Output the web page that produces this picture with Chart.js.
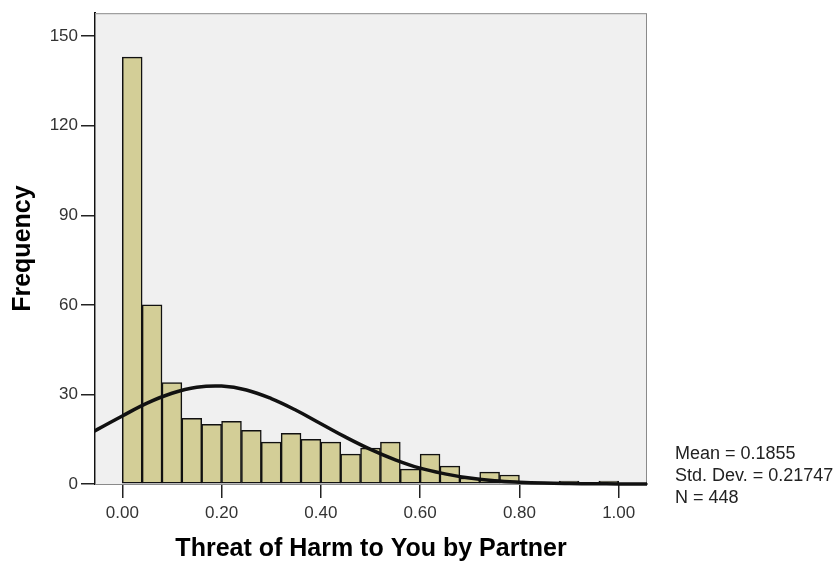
<!DOCTYPE html>
<html>
<head>
<meta charset="utf-8">
<script src="https://cdn.jsdelivr.net/npm/chart.js@4/dist/chart.umd.min.js"></script>
<style>
  html, body { margin: 0; padding: 0; background: #fff; }
  #wrap { position: relative; width: 840px; height: 567px; }
  #stats {
    position: absolute; left: 675px; top: 442px;
    font: 18px "Liberation Sans", Arial, sans-serif; color: #222;
    line-height: 22px; white-space: nowrap;
  }
</style>
</head>
<body>
<div id="wrap">
  <canvas id="histChart" width="840" height="567"></canvas>
  <div id="stats">Mean = 0.1855<br>Std. Dev. = 0.21747<br>N = 448</div>
</div>
<script>
// histogram bins (centres, width 0.04) and counts
const binCentres = [0.02, 0.06, 0.10, 0.14, 0.18, 0.22, 0.26, 0.30, 0.34, 0.38, 0.42, 0.46, 0.50,
                    0.54, 0.58, 0.62, 0.66, 0.70, 0.74, 0.78, 0.82, 0.86, 0.90, 0.94, 0.98, 1.02];
const counts = [143, 60, 34, 22, 20, 21, 18, 14, 17, 15, 14, 10, 12,
                14, 5, 10, 6, 2, 4, 3, 0, 0, 1, 0, 1, 0];

// normal curve
const curveX = [-0.10, -0.05, 0.00, 0.05, 0.10, 0.15, 0.20, 0.25, 0.30, 0.35, 0.40, 0.45, 0.50,
                0.55, 0.60, 0.65, 0.70, 0.75, 0.80, 0.85, 0.90, 0.95, 1.00, 1.05, 1.10];
const curveY = [13.9, 18.3, 22.8, 27.1, 30.4, 32.4, 32.8, 31.5, 28.6, 24.7, 20.2, 15.7, 11.6,
                8.1, 5.3, 3.4, 2.0, 1.1, 0.6, 0.3, 0.15, 0.07, 0.03, 0.01, 0.0];

const xTicks = [0, 0.2, 0.4, 0.6, 0.8, 1.0];
const yTicks = [0, 30, 60, 90, 120, 150];

// grey plot background with a thin frame
const plotBackground = {
  id: 'plotBackground',
  beforeDatasetsDraw(chart) {
    const { ctx, chartArea: a } = chart;
    ctx.save();
    ctx.fillStyle = '#f0f0f0';
    ctx.fillRect(a.left, a.top, a.right - a.left, a.bottom - a.top);
    ctx.strokeStyle = '#8a8a8a';
    ctx.lineWidth = 1;
    ctx.strokeRect(a.left + 0.5, a.top + 0.5, a.right - a.left - 1, a.bottom - a.top);
    ctx.restore();
  }
};

const font = '"Liberation Sans", Arial, sans-serif';

new Chart(document.getElementById('histChart'), {
  type: 'bar',
  data: {
    datasets: [{
      type: 'line',
      data: curveX.map((x, i) => ({ x: x, y: curveY[i] })),
      borderColor: '#111',
      borderWidth: 3.5,
      pointRadius: 0,
      tension: 0.4,
      clip: { left: 0, top: 0, right: 0, bottom: 2 },
      order: 0
    }, {
      type: 'bar',
      data: binCentres.map((x, i) => ({ x: x, y: counts[i] })),
      backgroundColor: '#d3ce97',
      borderColor: '#111',
      borderWidth: 1.5,
      borderSkipped: false,
      barPercentage: 1,
      categoryPercentage: 1,
      order: 1
    }]
  },
  options: {
    responsive: false,
    animation: false,
    events: [],
    layout: { padding: { left: 0, top: 10, right: 193, bottom: 0 } },
    plugins: { legend: { display: false }, tooltip: { enabled: false } },
    scales: {
      x: {
        type: 'linear',
        offset: false,
        min: -0.055,
        max: 1.057,
        afterBuildTicks: s => { s.ticks = xTicks.map(v => ({ value: v })); },
        afterFit: s => { s.height = 83; },
        grid: { offset: false, drawOnChartArea: false, drawTicks: true, tickLength: 14, color: '#222', lineWidth: 1.5 },
        border: { display: true, color: '#111', width: 2 },
        ticks: {
          padding: 5,
          color: '#333',
          font: { family: font, size: 17 },
          maxRotation: 0,
          callback: v => v.toFixed(2)
        },
        title: {
          display: true,
          text: 'Threat of Harm to You by Partner',
          color: '#000',
          font: { family: font, size: 25, weight: 'bold', lineHeight: 1.2 },
          padding: { top: 0, bottom: 3 }
        }
      },
      y: {
        min: 0,
        max: 157.7,
        afterBuildTicks: s => { s.ticks = yTicks.map(v => ({ value: v })); },
        afterFit: s => { s.width = 95; },
        grid: { drawOnChartArea: false, drawTicks: true, tickLength: 14, color: '#222', lineWidth: 1.5 },
        border: { display: true, color: '#111', width: 2 },
        ticks: {
          padding: 3,
          color: '#333',
          font: { family: font, size: 17 }
        },
        title: {
          display: true,
          text: 'Frequency',
          color: '#000',
          font: { family: font, size: 25, weight: 'bold', lineHeight: 1.2 },
          padding: { top: 8, bottom: 0 }
        }
      }
    }
  },
  plugins: [plotBackground]
});
</script>
</body>
</html>
